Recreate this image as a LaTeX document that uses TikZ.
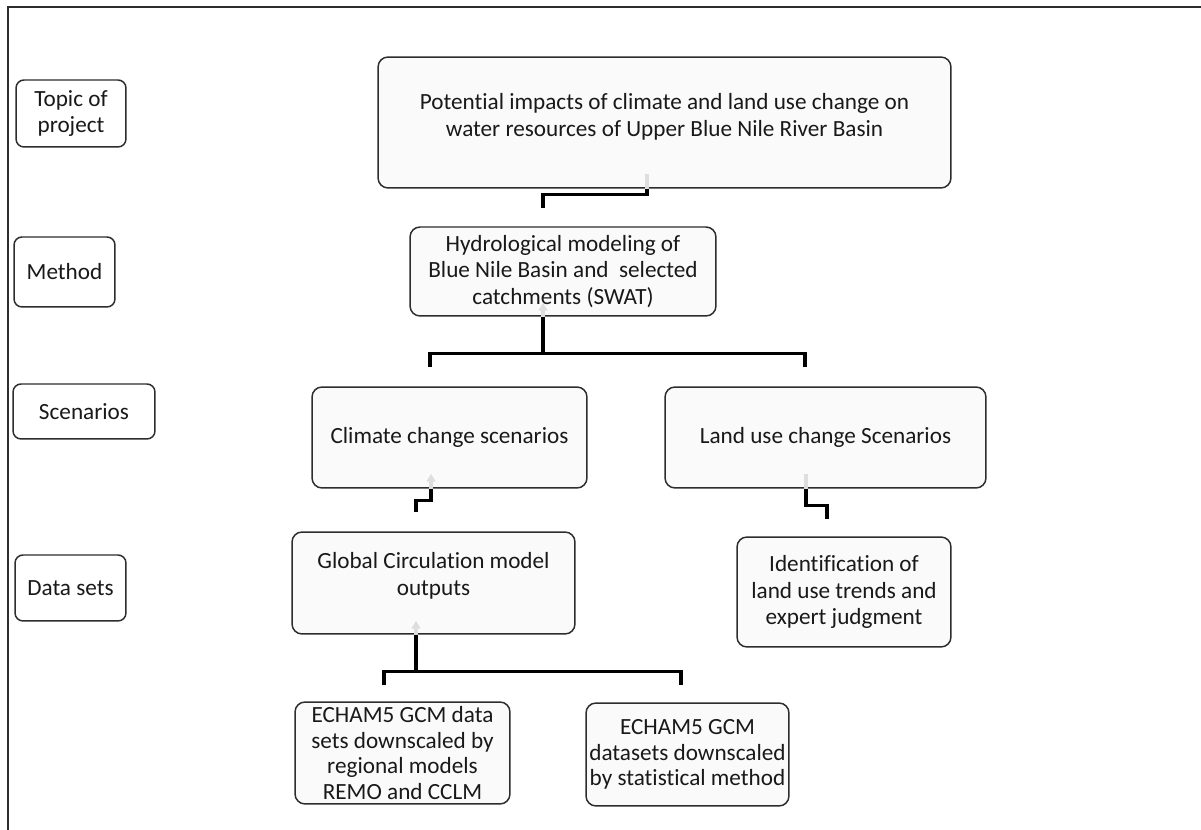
\documentclass[tikz,border=0pt]{standalone}
\usepackage{fontspec}
\setmainfont{Carlito}[Ligatures={NoCommon}]
\usetikzlibrary{calc,arrows.meta}
\definecolor{boxfill}{RGB}{250,250,250}
\definecolor{boxdraw}{RGB}{45,45,45}
\definecolor{ghost}{RGB}{222,222,222}
\definecolor{txtcol}{RGB}{25,25,25}
\begin{document}
\begin{tikzpicture}[x=0.02cm,y=-0.02cm,
  box/.style={draw=boxdraw, line width=0.85pt, rounded corners=0.2cm, fill=boxfill,
    align=center, inner sep=0pt, text=txtcol, font=\fontsize{13.2}{15.3}\selectfont},
  lbl/.style={box, fill=white, rounded corners=0.16cm},
  txt/.style={align=center, inner sep=0pt, text=txtcol, font=\fontsize{13.2}{15.6}\selectfont},
  tight/.style={font=\fontsize{13.2}{14.5}\selectfont},
  conn/.style={line width=1.9pt, black},
  ghostline/.style={line width=1.9pt, ghost},
  ghostarrow/.style={ghostline, -{Triangle[width=5pt,length=4.5pt]}},
  frameline/.style={line width=1.1pt, boxdraw}]
\useasboundingbox (0,0) rectangle (1201,830);
\draw[frameline] (8,830) -- (8,7) -- (1201,7);

% left labels
\node[lbl, minimum width=2.2cm, minimum height=1.34cm] (topic) at (71,113.5) {Topic of\\project};
\node[lbl, minimum width=2.02cm, minimum height=1.4cm] (method) at (64.5,272) {Method};
\node[lbl, minimum width=2.84cm, minimum height=1.1cm] (scen) at (84,411.5) {Scenarios};
\node[lbl, minimum width=2.22cm, minimum height=1.32cm] (data) at (70.5,588) {Data sets};

% main boxes
\node[box, minimum width=11.46cm, minimum height=2.62cm] (top) at (664.5,122.5) {};
\node[txt] (topT) at (664.5,117) {Potential impacts of climate and land use change on\\water resources of Upper Blue Nile River Basin};
\node[box, minimum width=6.12cm, minimum height=1.78cm] (hydro) at (563,271.5) {Hydrological modeling of\\Blue Nile Basin and\ \ selected\\catchments (SWAT)};
\node[box, minimum width=5.5cm, minimum height=2.02cm] (clim) at (449.5,437.5) {Climate change scenarios};
\node[box, minimum width=6.42cm, minimum height=2.02cm] (land) at (825.5,437.5) {Land use change Scenarios};
\node[box, minimum width=5.66cm, minimum height=2.04cm] (gcm) at (433.5,583) {};
\node[txt] (gcmT) at (433.5,576) {Global Circulation model\\outputs};
\node[box, minimum width=4.28cm, minimum height=2.2cm] (ident) at (844,592) {Identification of\\land use trends and\\expert judgment};
\node[box, tight, minimum width=4.3cm, minimum height=2.04cm] (ech1) at (402.5,753) {ECHAM5 GCM data\\sets downscaled by\\regional models\\REMO and CCLM};
\node[box, tight, minimum width=4.06cm, minimum height=2.06cm] (ech2) at (687.5,754.5) {ECHAM5 GCM\\datasets downscaled\\by statistical method};

% connectors: topic -> method
\draw[ghostline] ($(top.south)+(-17.5,-15)$) -- ($(top.south)+(-17.5,0)$);
\draw[conn] ($(top.south)+(-17.5,0)$) -- ++(0,6) -| ($(hydro.north)+(-20,-18)$);

% method -> scenarios
\draw[ghostarrow] ($(hydro.south)+(-20,0)$) -- ++(0,-14);
\draw[conn] ($(hydro.south)+(-20,0)$) -- ++(0,37) coordinate (hj);
\draw[conn] ($(clim.north)+(-19.5,-19)$) |- (hj) -| ($(land.north)+(-20.5,-19)$);

% climate <-> gcm
\draw[ghostarrow] ($(clim.south)+(-18.5,0)$) -- ++(0,-15);
\draw[conn] ($(clim.south)+(-18.5,0)$) -- ++(0,12) -| ($(gcm.north)+(-17.5,-19)$);

% land use -> identification
\draw[ghostline] ($(land.south)+(-19.5,-15)$) -- ($(land.south)+(-19.5,0)$);
\draw[conn] ($(land.south)+(-19.5,0)$) -- ++(0,17) -| ($(ident.north)+(-17,-17)$);

% gcm <-> echam
\draw[ghostarrow] ($(gcm.south)+(-17.5,0)$) -- ++(0,-14);
\draw[conn] ($(gcm.south)+(-17.5,0)$) -- ++(0,37) coordinate (gj);
\draw[conn] ($(ech1.north)+(-18.5,-16)$) |- (gj) -| ($(ech2.north)+(-6.5,-17)$);
\end{tikzpicture}
\end{document}
